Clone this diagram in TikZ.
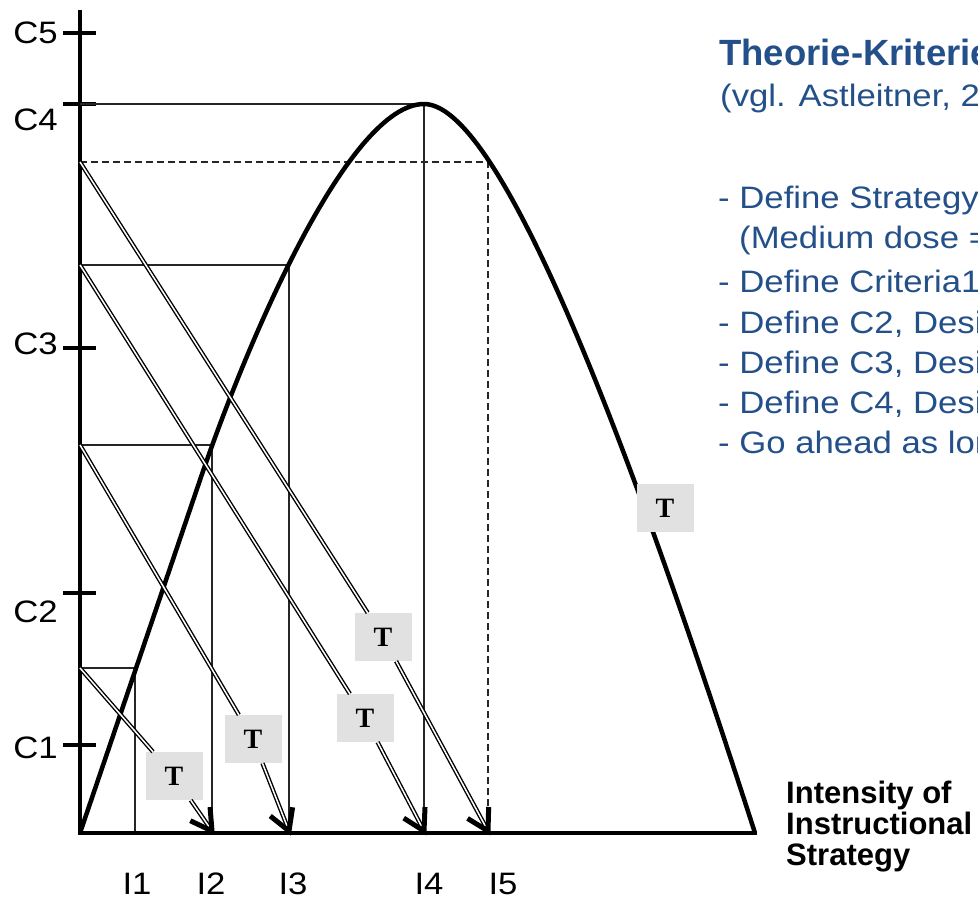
\documentclass[tikz,border=0pt]{standalone}
\usepackage{fontspec}
\setmainfont{Liberation Sans}
\newfontfamily\textoancho[FakeStretch=1.12]{Liberation Sans}
\newfontfamily\serifT{Liberation Serif}
\usetikzlibrary{calc}
\definecolor{azulTitulo}{HTML}{24508A}
\definecolor{grisCaja}{HTML}{E1E1E1}

\begin{document}
\begin{tikzpicture}[x=1pt,y=-1pt,
    eje/.style={line width=4.5pt},
    fina/.style={line width=1.8pt,draw=black!85},
    guia/.style={line width=1.8pt,draw=black!85,dash pattern=on 7pt off 4pt},
    doble/.style={double,line width=1.4pt,double distance=1.5pt},
    punta/.style={line width=5pt,line join=miter,miter limit=4},
    caja/.style={fill=grisCaja,minimum width=57pt,minimum height=48pt,inner sep=0pt,
      font=\serifT\bfseries\fontsize{28}{28}\selectfont},
    etiq/.style={font=\textoancho\fontsize{31}{31}\selectfont,inner sep=0pt},
    lista/.style={font=\textoancho\fontsize{31}{31}\selectfont,text=azulTitulo,
      anchor=base west,inner sep=0pt}]
  \useasboundingbox (0,0) rectangle (978,900);
  \clip (0,0) rectangle (978,900);
  % ejes y marcas
  \draw[eje] (80,10) -- (80,835);
  \draw[eje] (78,833) -- (757,833);
  \foreach \y in {33,104,348,593,745}
    {\draw[eje] (63,\y) -- (96,\y);}
  \node[etiq,anchor=east] (c5) at (58,33) {C5};
  \node[etiq,anchor=east] (c4) at (58,120) {C4};
  \node[etiq,anchor=east] (c3) at (58,344) {C3};
  \node[etiq,anchor=east] (c2) at (58,612) {C2};
  \node[etiq,anchor=east] (c1) at (58,748) {C1};
  \foreach \n/\x in {1/137,2/211,3/293,4/429,5/503}
    {\node[etiq] (i\n) at (\x,884) {I\n};}
  % puntos de la curva y de los ejes
  \foreach \n/\x/\y in {1/135/668,2/212/445,3/289/265,4/424/104,5/488/162}
    {\coordinate (q\n) at (\x,\y);
     \coordinate (a\n) at (80,\y);
     \coordinate (b\n) at (\x,831);}
  \foreach \n in {1,...,4}
    {\draw[fina] (a\n) -- (q\n) -- (b\n);}
  \draw[guia] (a5) -- (q5) -- (b5);
  % curva de dosis
  \draw[line width=4.5pt,line join=round]
    (80,833) -- (200,480) .. controls (250,333) and (350,104) .. (q4)
    .. controls (509,104) and (655,523) .. (755,833);
  % cajas T
  \node[caja] (T1) at (174,776) {T};
  \node[caja] (T2) at (253,739) {T};
  \node[caja] (T3) at (365,718) {T};
  \node[caja] (T4) at (383,637) {T};
  \node[caja] (T5) at (665,508) {T};
  \foreach \s/\t/\e in {a1/T1/b2,a2/T2/b3,a3/T3/b4,a5/T4/b5}
    {\draw[doble] (\s) -- (\t) (\t) -- ($(\e)!3pt!(\t)$);
     \draw[punta] ($(\e)!24pt!30:(\t)$) -- (\e) -- ($(\e)!24pt!-30:(\t)$);}
  % texto
  \node[anchor=base west,inner sep=0pt,text=azulTitulo,
    font=\bfseries\fontsize{36.5}{36.5}\selectfont] (titulo) at (719,65) {Theorie-Kriterie};
  \node[lista] (fuente) at (720,106) {(vgl. Astleitner, 2};
  \node[lista] (l1) at (718,208) {- Define Strategy};
  \node[lista] (l2) at (739,248) {(Medium dose =};
  \node[lista] (l3) at (718,292) {- Define Criteria1};
  \node[lista] (l4) at (718,333) {- Define C2, Desi};
  \node[lista] (l5) at (718,373) {- Define C3, Desi};
  \node[lista] (l6) at (718,413) {- Define C4, Desi};
  \node[lista] (l7) at (718,453) {- Go ahead as lon};
  \node[anchor=base west,inner sep=0pt,align=left,
    font=\bfseries\fontsize{31}{31}\selectfont] (ejex) at (786,865)
    {Intensity of\\Instructional\\Strategy};
\end{tikzpicture}
\end{document}
